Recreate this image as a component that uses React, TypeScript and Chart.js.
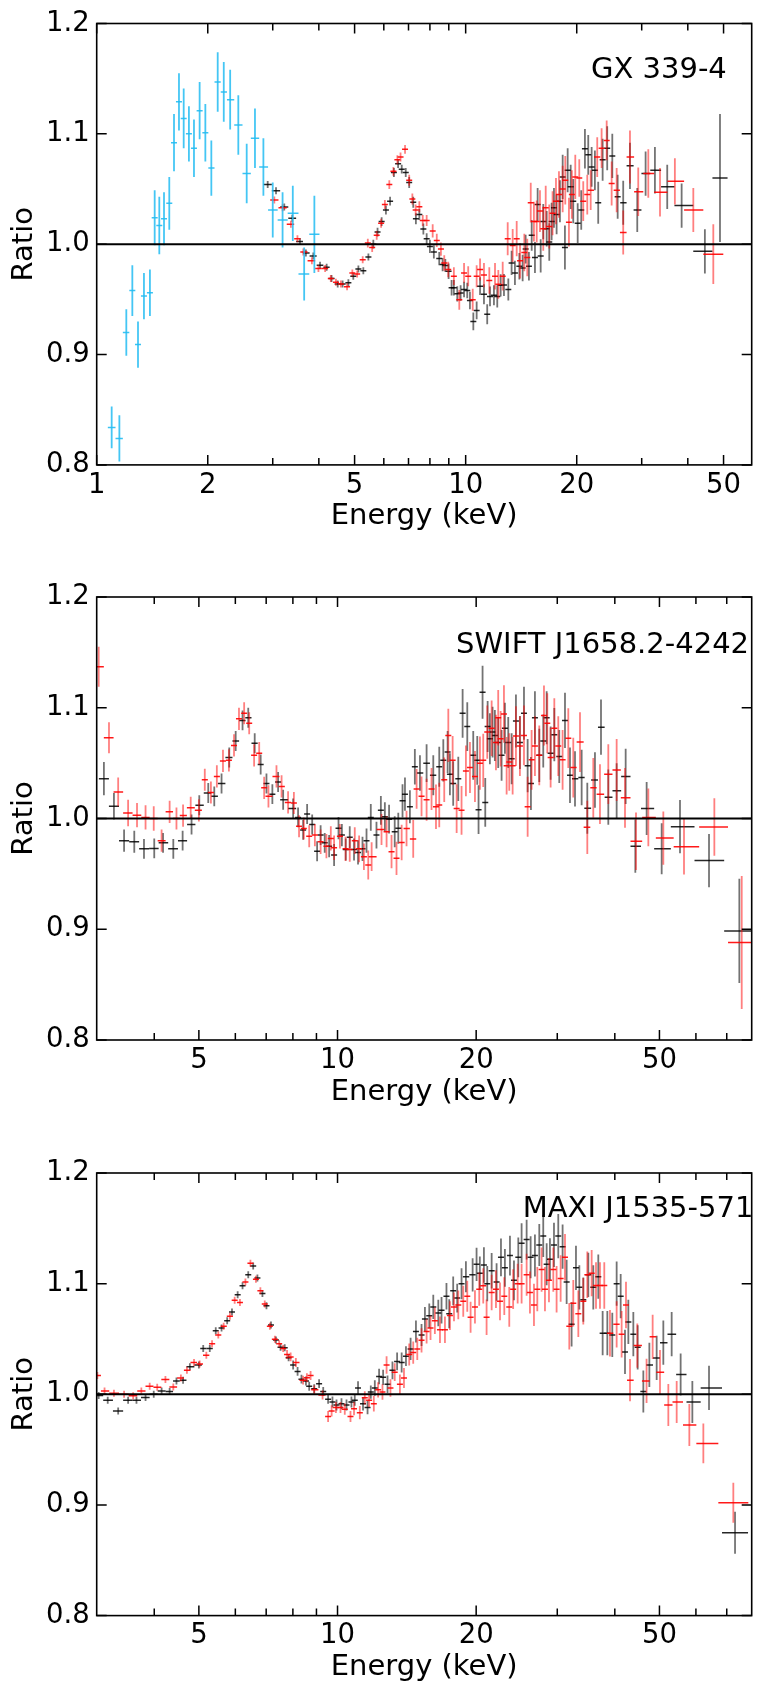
import React, { useEffect, useRef } from "react";
import { Chart, registerables } from "chart.js";

Chart.register(...registerables);

const FONT = '"DejaVu Sans", "Liberation Sans", sans-serif';

// ---------- Data: [energy keV, ratio, 1-sigma error] ----------
const gxBlue = [
  [1.098,0.834,0.019],[1.152,0.824,0.021],[1.203,0.920,0.021],[1.249,0.958,0.023],[1.294,0.909,0.021],
  [1.343,0.953,0.021],[1.394,0.956,0.021],[1.436,1.024,0.025],[1.478,1.017,0.026],[1.522,1.023,0.024],
  [1.573,1.037,0.024],[1.620,1.092,0.026],[1.671,1.129,0.026],[1.721,1.114,0.027],[1.778,1.100,0.025],
  [1.835,1.087,0.026],[1.901,1.121,0.026],[1.970,1.101,0.026],[2.045,1.069,0.025],[2.128,1.147,0.027],
  [2.21,1.138,0.027],[2.30,1.131,0.027],[2.42,1.108,0.027],[2.55,1.064,0.027],[2.685,1.096,0.027],
  [2.83,1.070,0.026],[3.00,1.031,0.025],[3.19,1.022,0.025],[3.40,1.028,0.025],[3.65,0.973,0.024],
  [3.89,1.009,0.035]
];
const gxBlack = [
  [2.907,1.054,0.003],[3.062,1.0485,0.003],[3.224,1.0336,0.003],[3.389,1.0236,0.003],[3.556,1.0025,0.003],
  [3.69,0.992,0.003],[3.864,0.9894,0.003],[4.03,0.981,0.003],[4.20,0.979,0.003],[4.33,0.969,0.003],
  [4.50,0.964,0.003],[4.64,0.964,0.003],[4.81,0.965,0.003],[4.96,0.971,0.003],[5.12,0.9776,0.003],
  [5.28,0.976,0.003],[5.45,0.9885,0.003],[5.62,1.0,0.004],[5.77,1.011,0.004],[5.92,1.0205,0.004],
  [6.08,1.031,0.004],[6.24,1.039,0.004],[6.39,1.065,0.004],[6.56,1.073,0.004],[6.71,1.068,0.004],
  [6.88,1.065,0.004],[7.03,1.056,0.005],[7.21,1.038,0.005],[7.33,1.023,0.005],[7.49,1.027,0.005],
  [7.68,1.0137,0.005],[7.84,1.005,0.005],[8.0,0.998,0.006],[8.2,0.993,0.006],[8.48,0.987,0.006],
  [8.66,0.9816,0.006],[8.81,0.9807,0.006],[8.99,0.9754,0.007],[9.16,0.9605,0.007],[9.29,0.9605,0.007],
  [9.49,0.955,0.007],[9.69,0.9558,0.007],[9.90,0.959,0.007],[10.1,0.958,0.007],[10.27,0.949,0.008],
  [10.49,0.930,0.008],[10.71,0.940,0.008],[10.94,0.962,0.008],[11.21,0.9546,0.009],[11.44,0.9365,0.009],
  [11.64,0.9527,0.009],[11.93,0.9537,0.009],[12.18,0.9527,0.01],[12.44,0.9627,0.01],[12.70,0.963,0.01],
  [13.05,0.959,0.01],[13.32,0.983,0.011],[13.60,0.974,0.011],[13.98,0.980,0.012],[14.27,0.9785,0.012],
  [14.54,0.9956,0.013],[14.84,0.980,0.013],[15.10,1.008,0.014],[15.41,0.988,0.014],[15.67,1.036,0.015],
  [15.97,0.9894,0.015],[16.23,1.0205,0.016],[16.58,1.014,0.016],[16.85,1.002,0.017],[17.10,1.0205,0.017],
  [17.35,1.033,0.018],[17.64,1.027,0.018],[18.01,1.039,0.019],[18.32,1.061,0.02],[18.58,0.997,0.02],
  [18.90,1.067,0.02],[19.26,1.052,0.02],[19.57,1.039,0.02],[20.12,1.019,0.018],[20.57,1.031,0.018],
  [21.05,1.0865,0.018],[21.49,1.081,0.018],[21.95,1.070,0.018],[22.40,1.067,0.018],[22.87,1.0376,0.019],
  [23.51,1.0765,0.019],[24.19,1.087,0.02],[24.97,1.080,0.02],[25.82,1.043,0.02],[26.73,1.0376,0.02],
  [27.88,1.071,0.021],[29.18,1.031,0.02],[30.74,1.064,0.02],[32.58,1.067,0.021],[35.18,1.052,0.02],
  [38.49,1.035,0.02],[44.5,0.9935,0.02],[48.9,1.060,0.058]
];
const gxRed = [
  [3.03,1.040,0.003],[3.19,1.033,0.003],[3.36,1.018,0.003],[3.50,1.005,0.003],[3.63,0.993,0.003],
  [3.83,0.985,0.003],[3.99,0.978,0.003],[4.16,0.978,0.003],[4.31,0.969,0.003],[4.45,0.9655,0.003],
  [4.59,0.964,0.003],[4.77,0.9614,0.003],[4.93,0.974,0.003],[5.08,0.973,0.003],[5.26,0.986,0.003],
  [5.43,1.001,0.004],[5.58,0.997,0.004],[5.74,1.008,0.004],[5.90,1.019,0.004],[6.04,1.036,0.004],
  [6.21,1.054,0.004],[6.37,1.066,0.004],[6.53,1.0765,0.004],[6.66,1.079,0.004],[6.85,1.086,0.004],
  [7.03,1.058,0.005],[7.17,1.041,0.005],[7.32,1.031,0.005],[7.49,1.034,0.005],[7.65,1.0215,0.005],
  [7.84,1.0215,0.005],[8.14,1.012,0.006],[8.35,1.0034,0.006],[8.57,0.9956,0.006],[8.75,0.983,0.007],
  [8.97,0.977,0.007],[9.29,0.971,0.008],[9.61,0.9496,0.009],[9.90,0.974,0.009],[10.16,0.971,0.009],
  [10.45,0.9496,0.01],[10.71,0.971,0.01],[10.94,0.977,0.01],[11.21,0.972,0.011],[11.59,0.967,0.012],
  [12.01,0.971,0.012],[12.26,0.9636,0.013],[12.60,0.971,0.013],[13.0,1.005,0.015],[13.41,0.9988,0.015],
  [13.75,1.005,0.016],[14.04,0.985,0.016],[14.42,0.9925,0.017],[14.69,0.988,0.017],[15.01,1.0376,0.018],
  [15.31,1.0205,0.018],[15.58,1.0205,0.019],[15.90,1.030,0.019],[16.23,1.014,0.02],[16.48,1.033,0.02],
  [16.85,1.016,0.02],[17.2,1.028,0.02],[17.57,1.039,0.021],[17.90,1.045,0.021],[18.32,1.050,0.021],
  [18.62,1.058,0.022],[19.05,1.020,0.022],[19.4,1.045,0.022],[19.82,1.061,0.02],[20.32,1.060,0.017],
  [20.83,1.039,0.018],[21.36,1.045,0.018],[21.82,1.049,0.018],[22.73,1.079,0.018],[23.36,1.087,0.018],
  [24.11,1.094,0.018],[24.87,1.055,0.02],[25.66,1.049,0.02],[26.73,1.0106,0.02],[27.88,1.079,0.024],
  [29.36,1.0476,0.022],[31.26,1.064,0.022],[33.63,1.047,0.022],[36.9,1.057,0.021],[41.4,1.031,0.02],
  [46.9,0.991,0.027]
];

const swBlack = [
  [3.11,1.036,0.015],[3.27,1.011,0.012],[3.44,0.980,0.01],[3.62,0.979,0.01],[3.80,0.9726,0.009],
  [4.00,0.973,0.009],[4.18,0.978,0.009],[4.40,0.9726,0.009],[4.61,0.980,0.009],[4.82,0.9945,0.009],
  [5.01,1.012,0.009],[5.24,1.023,0.009],[5.40,1.020,0.009],[5.60,1.0316,0.009],[5.82,1.055,0.009],
  [6.01,1.070,0.009],[6.22,1.0886,0.009],[6.40,1.091,0.009],[6.61,1.068,0.009],[6.81,1.0487,0.009],
  [7.01,1.0316,0.009],[7.22,1.022,0.009],[7.43,1.033,0.009],[7.62,1.017,0.009],[8.01,1.009,0.009],
  [8.21,1.001,0.009],[8.42,0.9897,0.009],[8.59,1.004,0.009],[8.81,0.9945,0.009],[9.03,0.9704,0.009],
  [9.19,0.985,0.009],[9.38,0.978,0.009],[9.59,0.975,0.01],[9.83,0.967,0.01],[10.05,0.9913,0.01],
  [10.22,0.985,0.01],[10.42,0.972,0.01],[10.63,0.983,0.01],[10.86,0.972,0.01],[11.08,0.9694,0.011],
  [11.33,0.9726,0.011],[11.56,0.980,0.011],[11.81,1.001,0.012],[12.15,0.985,0.012],[12.42,1.0074,0.013],
  [12.67,1.0016,0.013],[12.94,0.9994,0.013],[13.31,0.988,0.014],[13.55,0.9913,0.014],[13.84,1.016,0.015],
  [14.01,1.022,0.015],[14.36,1.0106,0.015],[14.72,1.0467,0.016],[15.10,1.041,0.016],[15.61,1.050,0.017],
  [16.14,1.039,0.018],[16.63,1.0467,0.018],[16.97,1.0525,0.019],[17.34,1.060,0.019],[17.54,1.040,0.019],
  [17.83,1.0316,0.02],[18.29,1.0358,0.02],[18.69,1.095,0.022],[19.13,1.083,0.022],[19.71,1.057,0.022],
  [20.11,1.0525,0.022],[20.24,1.008,0.022],[20.65,1.114,0.024],[20.93,1.0145,0.022],[21.18,1.083,0.023],
  [21.42,1.072,0.023],[21.71,1.078,0.023],[21.96,1.075,0.023],[22.33,1.0686,0.023],[22.71,1.057,0.023],
  [23.09,1.0815,0.023],[23.48,1.0686,0.023],[23.88,1.054,0.023],[24.40,1.088,0.024],[24.89,1.0686,0.024],
  [25.40,1.095,0.024],[25.87,1.0477,0.024],[26.30,1.0316,0.024],[26.83,1.091,0.024],[27.42,1.057,0.024],
  [27.97,1.070,0.024],[28.45,1.091,0.024],[29.02,1.059,0.024],[29.56,1.0757,0.024],[30.30,1.056,0.024],
  [31.18,1.0886,0.025],[31.97,1.039,0.025],[32.78,1.0358,0.025],[33.89,1.037,0.025],[34.86,1.0093,0.023],
  [36.22,1.0348,0.025],[37.33,1.0825,0.025],[38.72,1.0193,0.025],[40.37,1.025,0.025],[42.23,1.038,0.025],
  [44.32,0.975,0.024],[46.9,1.009,0.024],[50.56,0.9726,0.023],[55.41,0.9926,0.024],[64.06,0.962,0.024],
  [74.55,0.8985,0.047]
];
const swRed = [
  [3.03,1.137,0.018],[3.19,1.073,0.014],[3.34,1.024,0.013],[3.51,1.005,0.012],[3.67,1.003,0.011],
  [3.83,1.001,0.011],[3.99,1.0,0.011],[4.15,0.980,0.01],[4.32,1.006,0.01],[4.47,1.0,0.01],
  [4.62,1.0026,0.01],[4.80,1.0097,0.01],[5.0,1.0074,0.01],[5.15,1.035,0.01],[5.31,1.0235,0.01],
  [5.47,1.038,0.01],[5.64,1.052,0.01],[5.81,1.0525,0.01],[5.96,1.066,0.01],[6.11,1.090,0.01],
  [6.27,1.095,0.01],[6.43,1.086,0.01],[6.59,1.057,0.01],[6.76,1.059,0.01],[6.93,1.0277,0.01],
  [7.08,1.020,0.01],[7.37,1.038,0.01],[7.56,1.029,0.01],[7.81,1.0145,0.01],[8.04,1.014,0.01],
  [8.25,0.993,0.01],[8.45,0.991,0.01],[8.68,0.984,0.01],[8.93,0.985,0.01],[9.19,0.979,0.011],
  [9.46,0.975,0.011],[9.67,0.982,0.011],[9.83,0.9736,0.011],[10.12,0.984,0.011],[10.41,0.9726,0.011],
  [10.63,0.972,0.011],[10.90,0.980,0.012],[11.14,0.9726,0.012],[11.41,0.9655,0.012],[11.66,0.958,0.013],
  [11.86,0.9655,0.013],[12.46,0.990,0.014],[12.78,0.988,0.014],[13.10,0.970,0.015],[13.43,0.964,0.015],
  [13.78,0.9784,0.016],[14.12,0.991,0.016],[14.60,0.9816,0.017],[14.85,1.0267,0.018],[15.22,1.020,0.018],
  [15.61,1.017,0.019],[16.00,1.0267,0.019],[16.36,1.0106,0.02],[16.63,1.0122,0.02],[17.05,1.035,0.02],
  [17.40,1.075,0.024],[17.78,1.0525,0.022],[18.14,1.009,0.022],[18.59,1.0074,0.022],[19.0,1.043,0.023],
  [19.39,1.046,0.023],[19.88,1.038,0.023],[20.38,1.050,0.024],[20.72,1.0525,0.024],[21.14,1.078,0.024],
  [21.61,1.0815,0.025],[22.08,1.0686,0.025],[22.33,1.091,0.025],[22.60,1.072,0.025],[22.98,1.0944,0.026],
  [23.29,1.0477,0.026],[23.60,1.051,0.026],[24.0,1.0477,0.026],[24.40,1.0744,0.027],[24.89,1.0654,0.027],
  [25.40,1.075,0.027],[25.87,1.0106,0.027],[26.39,1.053,0.027],[26.83,1.0654,0.027],[27.42,1.057,0.027],
  [28.07,1.093,0.027],[28.54,1.086,0.027],[29.02,1.055,0.027],[29.56,1.0815,0.027],[30.15,1.0654,0.027],
  [30.81,1.053,0.027],[31.70,1.0725,0.027],[32.50,1.046,0.027],[33.61,1.069,0.027],[34.86,0.992,0.024],
  [35.92,1.0277,0.027],[37.14,1.022,0.027],[38.72,1.040,0.027],[40.37,1.0438,0.028],[42.09,1.0187,0.027],
  [44.47,0.9794,0.026],[47.30,1.001,0.026],[50.98,0.9823,0.024],[56.53,0.9745,0.025],[65.79,0.9923,0.026],
  [75.44,0.888,0.06]
];

const mxBlack = [
  [3.03,0.999,0.003],[3.17,0.9946,0.003],[3.34,0.985,0.003],[3.51,0.9946,0.003],[3.66,0.9946,0.003],
  [3.83,0.997,0.003],[3.99,1.0,0.003],[4.15,1.003,0.003],[4.32,1.0026,0.003],[4.47,1.012,0.003],
  [4.62,1.0128,0.003],[4.78,1.025,0.003],[5.0,1.0265,0.003],[5.11,1.0415,0.003],[5.28,1.0415,0.003],
  [5.44,1.0575,0.003],[5.60,1.060,0.003],[5.76,1.0664,0.003],[5.90,1.0744,0.003],[6.07,1.090,0.003],
  [6.22,1.098,0.003],[6.40,1.108,0.003],[6.56,1.116,0.003],[6.70,1.105,0.003],[6.87,1.091,0.003],
  [7.01,1.080,0.003],[7.17,1.0626,0.003],[7.35,1.049,0.003],[7.52,1.0425,0.003],[7.68,1.042,0.003],
  [7.83,1.033,0.003],[8.01,1.0265,0.004],[8.19,1.0207,0.004],[8.35,1.0137,0.004],[8.54,1.012,0.004],
  [8.68,1.0073,0.004],[8.90,1.005,0.004],[9.12,1.0096,0.004],[9.31,1.0026,0.004],[9.54,0.9955,0.004],
  [9.75,0.993,0.005],[9.95,0.9904,0.005],[10.20,0.9914,0.005],[10.46,0.9904,0.005],[10.72,0.993,0.005],
  [10.90,0.9946,0.005],[11.08,1.0057,0.006],[11.36,0.9914,0.006],[11.62,0.988,0.006],[11.81,1.002,0.006],
  [12.05,1.0057,0.007],[12.31,1.016,0.007],[12.56,1.0153,0.007],[12.84,1.009,0.008],[13.16,1.0217,0.008],
  [13.47,1.0297,0.008],[13.78,1.0287,0.009],[14.08,1.0345,0.009],[14.41,1.041,0.01],[14.80,1.0568,0.01],
  [15.22,1.0536,0.01],[15.48,1.068,0.011],[15.82,1.071,0.011],[16.14,1.079,0.011],[16.55,1.0734,0.012],
  [16.82,1.076,0.012],[17.24,1.0887,0.012],[17.48,1.0728,0.013],[17.83,1.0935,0.013],[18.19,1.087,0.013],
  [18.59,1.10,0.014],[19.0,1.1063,0.014],[19.65,1.108,0.015],[20.04,1.1175,0.015],[20.37,1.1095,0.015],
  [20.79,1.1168,0.016],[21.14,1.10,0.016],[21.61,1.1117,0.016],[22.15,1.1015,0.017],[22.64,1.1238,0.017],
  [23.09,1.1143,0.017],[23.68,1.1254,0.018],[24.16,1.103,0.018],[24.69,1.1238,0.018],[25.10,1.1366,0.018],
  [25.74,1.1398,0.018],[26.26,1.1238,0.019],[26.83,1.1254,0.019],[27.42,1.135,0.019],[27.97,1.143,0.019],
  [28.45,1.1175,0.019],[28.92,1.122,0.019],[29.51,1.135,0.02],[30.15,1.143,0.02],[30.81,1.1334,0.02],
  [31.44,1.1015,0.02],[32.23,1.0632,0.02],[32.94,1.1143,0.02],[33.50,1.0967,0.02],[34.17,1.0855,0.02],
  [35.04,1.108,0.02],[35.92,1.0967,0.02],[36.83,1.1063,0.02],[37.64,1.0552,0.02],[38.53,1.0552,0.02],
  [39.50,1.0536,0.02],[40.37,1.10,0.02],[41.19,1.0887,0.02],[42.09,1.0383,0.02],[42.80,1.0654,0.02],
  [43.88,1.0543,0.02],[44.84,1.0425,0.02],[46.13,1.0026,0.019],[47.54,1.0265,0.02],[49.31,1.0329,0.02],
  [50.98,1.0466,0.02],[53.15,1.0543,0.02],[55.59,1.0179,0.019],[58.94,0.993,0.019],[64.06,1.0057,0.02],
  [72.96,0.8749,0.019]
];
const mxRed = [
  [3.01,1.017,0.003],[3.12,1.003,0.003],[3.27,1.001,0.003],[3.44,1.0,0.003],[3.60,0.9987,0.003],
  [3.75,1.003,0.003],[3.91,1.0073,0.003],[4.06,1.0064,0.003],[4.23,1.0134,0.003],[4.40,1.0067,0.003],
  [4.57,1.0147,0.003],[4.71,1.0217,0.003],[4.88,1.0287,0.003],[5.02,1.0274,0.003],[5.19,1.0354,0.003],
  [5.34,1.0456,0.003],[5.51,1.0536,0.003],[5.66,1.0616,0.003],[5.84,1.0705,0.003],[5.98,1.085,0.003],
  [6.14,1.083,0.003],[6.31,1.1015,0.003],[6.47,1.1184,0.003],[6.65,1.104,0.003],[6.80,1.0935,0.003],
  [6.95,1.0817,0.003],[7.13,1.0616,0.003],[7.31,1.0498,0.003],[7.47,1.0456,0.003],[7.62,1.0415,0.003],
  [7.77,1.036,0.004],[7.91,1.0338,0.004],[8.12,1.0287,0.004],[8.42,1.0128,0.004],[8.58,1.015,0.004],
  [8.74,1.017,0.004],[8.90,1.004,0.004],[9.28,0.9994,0.004],[9.54,0.980,0.005],[9.71,0.985,0.005],
  [9.92,0.988,0.005],[10.15,0.988,0.005],[10.37,0.9866,0.005],[10.67,0.980,0.005],[10.86,0.987,0.006],
  [11.18,0.9834,0.006],[11.46,0.9968,0.006],[11.71,0.9946,0.006],[11.99,0.9914,0.007],[12.25,1.004,0.007],
  [12.52,1.002,0.007],[12.78,1.0265,0.008],[13.03,1.0057,0.008],[13.31,1.020,0.008],[13.66,1.009,0.009],
  [13.94,1.0147,0.009],[14.31,1.036,0.01],[14.60,1.0377,0.01],[14.90,1.041,0.01],[15.22,1.0488,0.011],
  [15.61,1.0568,0.011],[15.92,1.060,0.011],[16.27,1.0664,0.012],[16.69,1.0584,0.012],[17.11,1.0584,0.012],
  [17.54,1.0712,0.013],[17.90,1.079,0.013],[18.29,1.0808,0.013],[18.75,1.084,0.014],[19.13,1.0887,0.014],
  [19.45,1.0696,0.014],[19.88,1.079,0.015],[20.31,1.095,0.015],[20.72,1.098,0.016],[21.07,1.0696,0.016],
  [21.61,1.092,0.016],[22.08,1.095,0.017],[22.53,1.084,0.017],[23.02,1.0887,0.017],[23.60,1.079,0.018],
  [24.06,1.095,0.018],[24.61,1.10,0.018],[25.10,1.10,0.018],[25.74,1.108,0.019],[26.17,1.092,0.019],
  [26.70,1.0808,0.019],[27.15,1.095,0.02],[27.74,1.1127,0.02],[28.21,1.095,0.02],[28.78,1.1031,0.02],
  [29.41,1.1127,0.02],[29.90,1.095,0.021],[30.51,1.1047,0.021],[31.18,1.1238,0.021],[31.86,1.0616,0.021],
  [32.50,1.0823,0.021],[33.33,1.0728,0.021],[34.17,1.084,0.021],[34.86,1.108,0.021],[35.63,1.1095,0.021],
  [36.41,1.0983,0.021],[37.14,1.0983,0.021],[37.95,1.0983,0.021],[39.04,1.0552,0.021],[40.37,1.0632,0.021],
  [41.39,1.0543,0.021],[42.30,1.0808,0.021],[43.16,1.0128,0.019],[44.76,1.044,0.02],[46.88,1.0121,0.02],
  [48.33,1.052,0.02],[50.14,1.020,0.02],[52.27,0.9904,0.019],[54.50,0.993,0.019],[58.06,0.9722,0.019],
  [62.27,0.9556,0.018],[72.34,0.902,0.018]
];

// ---------- Axes ----------
const yTicks = [0.8, 0.9, 1.0, 1.1, 1.2];
const gxXMajor = [1, 2, 5, 10, 20, 50];
const gxXMinor = [3, 4, 6, 7, 8, 9, 30, 40];
const hxXMajor = [5, 10, 20, 50];
const hxXMinor = [4, 6, 7, 8, 9, 30, 40, 60, 70];

// colours
const BLACK_V = "rgba(0,0,0,0.55)";
const BLACK_H = "rgba(0,0,0,0.85)";
const RED_V = "rgba(255,0,0,0.5)";
const RED_H = "rgba(255,0,0,0.9)";
const BLUE_V = "rgba(35,188,242,0.85)";
const BLUE_H = "rgba(35,188,242,0.9)";

function toPoints(arr: number[][]) {
  const s = [...arr].sort((a, b) => a[0] - b[0]);
  return s.map((p, i) => {
    const prev = s[i - 1];
    const next = s[i + 1];
    let lo: number, hi: number;
    if (prev && next) {
      lo = Math.sqrt(prev[0] * p[0]);
      hi = Math.sqrt(next[0] * p[0]);
    } else if (next) {
      hi = Math.sqrt(next[0] * p[0]);
      lo = (p[0] * p[0]) / hi;
    } else {
      lo = Math.sqrt(prev[0] * p[0]);
      hi = (p[0] * p[0]) / lo;
    }
    return { x: p[0], y: p[1], xl: lo, xh: hi, e: p[2] };
  });
}

const decoPlugin = {
  id: "deco",
  afterDatasetsDraw(chart: any, _args: any, opts: any) {
    const { ctx, chartArea: ca, scales } = chart;
    const xs = scales.x, ys = scales.y;
    ctx.save();
    ctx.beginPath();
    ctx.rect(ca.left, ca.top, ca.right - ca.left, ca.bottom - ca.top);
    ctx.clip();
    chart.data.datasets.forEach((ds: any) => {
      ds.data.forEach((p: any) => {
        const px = xs.getPixelForValue(p.x);
        const py = ys.getPixelForValue(p.y);
        const x0 = xs.getPixelForValue(p.xl);
        const x1 = xs.getPixelForValue(p.xh);
        const y0 = ys.getPixelForValue(p.y - p.e);
        const y1 = ys.getPixelForValue(p.y + p.e);
        ctx.lineCap = "butt";
        ctx.strokeStyle = ds.vColor;
        ctx.lineWidth = 1.8;
        ctx.beginPath();
        ctx.moveTo(px, Math.max(y0, py + 3.5));
        ctx.lineTo(px, Math.min(y1, py - 3.5));
        ctx.stroke();
        ctx.strokeStyle = ds.hColor;
        ctx.lineWidth = 1.5;
        ctx.beginPath();
        ctx.moveTo(Math.min(x0, px - 3), py);
        ctx.lineTo(Math.max(x1, px + 3), py);
        ctx.stroke();
      });
    });
    ctx.restore();

    // unity line
    ctx.save();
    const yu = ys.getPixelForValue(1.0);
    ctx.strokeStyle = "#000";
    ctx.lineWidth = 2;
    ctx.beginPath();
    ctx.moveTo(ca.left, yu);
    ctx.lineTo(ca.right, yu);
    ctx.stroke();

    // frame
    ctx.lineWidth = 1.6;
    ctx.strokeRect(ca.left, ca.top, ca.right - ca.left, ca.bottom - ca.top);

    // ticks (inward, all sides)
    ctx.lineWidth = 1.5;
    ctx.beginPath();
    const tick = (v: number, len: number) => {
      const x = xs.getPixelForValue(v);
      if (x < ca.left - 0.5 || x > ca.right + 0.5) return;
      ctx.moveTo(x, ca.bottom);
      ctx.lineTo(x, ca.bottom - len);
      ctx.moveTo(x, ca.top);
      ctx.lineTo(x, ca.top + len);
    };
    opts.xMajor.forEach((v: number) => tick(v, 10));
    opts.xMinor.forEach((v: number) => tick(v, 7));
    yTicks.forEach((v) => {
      const y = ys.getPixelForValue(v);
      ctx.moveTo(ca.left, y);
      ctx.lineTo(ca.left + 10, y);
      ctx.moveTo(ca.right, y);
      ctx.lineTo(ca.right - 10, y);
    });
    ctx.stroke();

    // source name
    ctx.fillStyle = "#000";
    ctx.font = `29px ${FONT}`;
    ctx.textAlign = "left";
    ctx.textBaseline = "alphabetic";
    ctx.fillText(opts.label, opts.labelX, opts.labelY);
    ctx.restore();
  },
};

type PanelProps = {
  top: number;
  height: number;
  plotTop: number;
  plotBottom: number;
  xMin: number;
  xMax: number;
  xMajor: number[];
  xMinor: number[];
  series: { pts: number[][]; v: string; h: string }[];
  label: string;
  labelX: number;
  labelY: number;
};

const TITLE_SIZE = 29;
const TICK_SIZE = 27.5;

function Panel(p: PanelProps) {
  const ref = useRef<HTMLCanvasElement | null>(null);
  useEffect(() => {
    if (!ref.current) return;
    const W = 765;
    const plotLeft = 96.7;
    const plotRight = 751.7;
    const axisH = p.height - p.plotBottom;
    const titlePad = axisH - (TITLE_SIZE * 1.2) / 2 - 52;
    const chart = new Chart(ref.current, {
      type: "scatter",
      data: {
        datasets: p.series.map((s) => ({
          data: toPoints(s.pts),
          pointRadius: 0,
          showLine: false,
          vColor: s.v,
          hColor: s.h,
        })) as any,
      },
      options: {
        animation: false,
        responsive: false,
        events: [],
        layout: { padding: { top: p.plotTop, right: W - plotRight, left: 0, bottom: 0 } },
        plugins: {
          legend: { display: false },
          tooltip: { enabled: false },
          deco: { xMajor: p.xMajor, xMinor: p.xMinor, label: p.label, labelX: p.labelX, labelY: p.labelY },
        } as any,
        scales: {
          x: {
            type: "logarithmic",
            min: p.xMin,
            max: p.xMax,
            bounds: "data",
            grid: { display: false, drawTicks: false },
            border: { display: false },
            afterBuildTicks: (s: any) => {
              s.ticks = p.xMajor.map((v) => ({ value: v }));
            },
            afterFit: (s: any) => {
              s.height = axisH;
            },
            ticks: {
              autoSkip: false,
              maxRotation: 0,
              minRotation: 0,
              padding: 4,
              color: "#000",
              font: { size: TICK_SIZE, family: FONT },
              callback: (v: any) => String(v),
            },
            title: {
              display: true,
              text: "Energy (keV)",
              color: "#000",
              font: { size: TITLE_SIZE, family: FONT },
              padding: { top: 0, bottom: titlePad },
            },
          },
          y: {
            type: "linear",
            min: 0.8,
            max: 1.2,
            grid: { display: false, drawTicks: false },
            border: { display: false },
            afterBuildTicks: (s: any) => {
              s.ticks = yTicks.map((v) => ({ value: v }));
            },
            afterFit: (s: any) => {
              s.width = plotLeft;
            },
            ticks: {
              padding: 7,
              color: "#000",
              font: { size: TICK_SIZE, family: FONT },
              callback: (v: any) => Number(v).toFixed(1),
            },
            title: {
              display: true,
              text: "Ratio",
              color: "#000",
              font: { size: TITLE_SIZE, family: FONT },
              padding: { top: 7, bottom: 0 },
            },
          },
        },
      } as any,
      plugins: [decoPlugin as any],
    });
    return () => chart.destroy();
  }, []);
  return (
    <canvas
      ref={ref}
      width={765}
      height={p.height}
      style={{ position: "absolute", left: 0, top: p.top, width: 765, height: p.height }}
    />
  );
}

export default function App() {
  return (
    <div style={{ position: "absolute", left: 0, top: 0, width: 765, height: 1694, background: "#fff" }}>
      <Panel
        top={0}
        height={545}
        plotTop={21.7}
        plotBottom={464.9}
        xMin={1}
        xMax={59.6}
        xMajor={gxXMajor}
        xMinor={gxXMinor}
        series={[
          { pts: gxBlack, v: BLACK_V, h: BLACK_H },
          { pts: gxRed, v: RED_V, h: RED_H },
          { pts: gxBlue, v: BLUE_V, h: BLUE_H },
        ]}
        label="GX 339-4"
        labelX={591}
        labelY={77.5}
      />
      <Panel
        top={560}
        height={560}
        plotTop={37}
        plotBottom={480}
        xMin={3}
        xMax={79.3}
        xMajor={hxXMajor}
        xMinor={hxXMinor}
        series={[
          { pts: swBlack, v: BLACK_V, h: BLACK_H },
          { pts: swRed, v: RED_V, h: RED_H },
        ]}
        label="SWIFT J1658.2-4242"
        labelX={456}
        labelY={92.5}
      />
      <Panel
        top={1120}
        height={574}
        plotTop={53}
        plotBottom={495.6}
        xMin={3}
        xMax={79.3}
        xMajor={hxXMajor}
        xMinor={hxXMinor}
        series={[
          { pts: mxBlack, v: BLACK_V, h: BLACK_H },
          { pts: mxRed, v: RED_V, h: RED_H },
        ]}
        label="MAXI J1535-571"
        labelX={522.7}
        labelY={97}
      />
    </div>
  );
}
